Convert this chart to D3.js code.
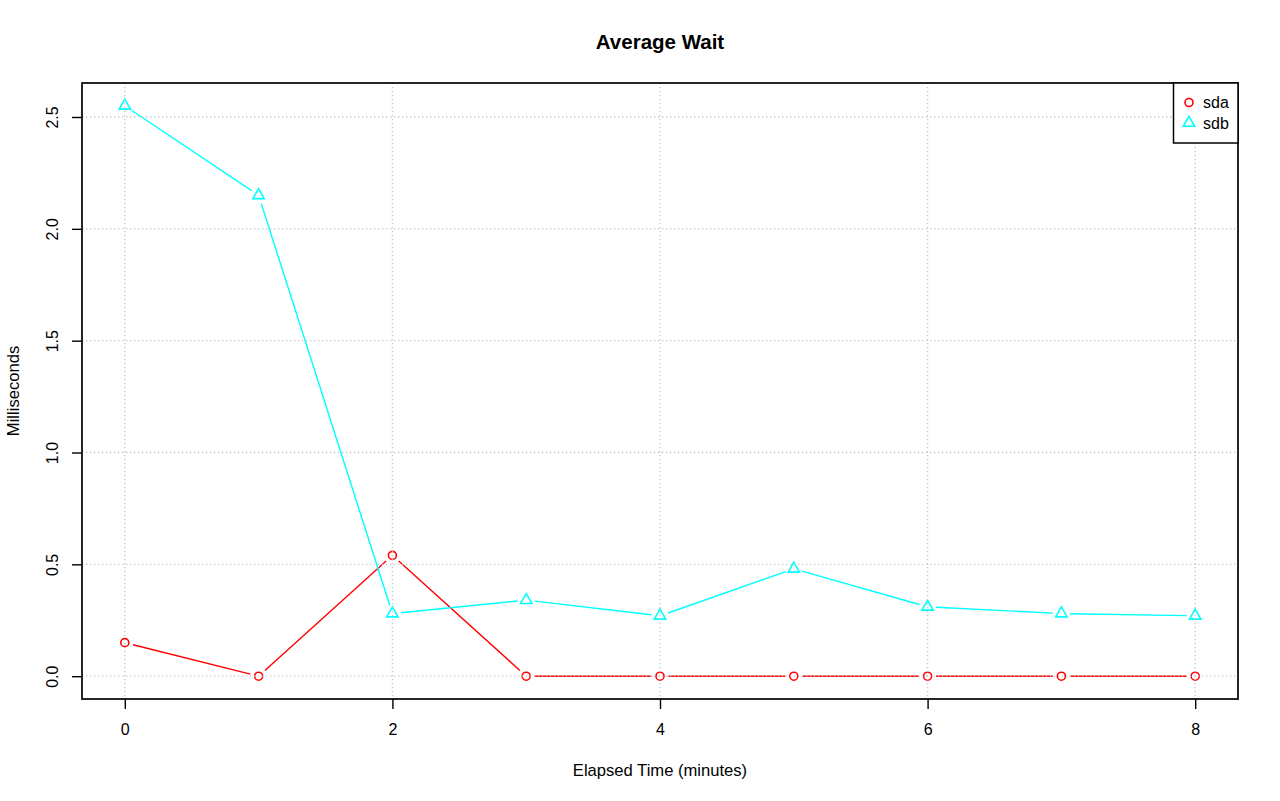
<!DOCTYPE html>
<html>
<head>
<meta charset="utf-8">
<script src="https://cdn.jsdelivr.net/npm/d3@7"></script>
<style>
  html, body { margin: 0; padding: 0; background: #fff; }
  svg { display: block; font-family: "Liberation Sans", Arial, Helvetica, sans-serif; }
</style>
</head>
<body>
<svg id="chart" width="1280" height="801"></svg>
<script>
const minutes = [0, 1, 2, 3, 4, 5, 6, 7, 8];
const sda = [0.15, 0, 0.54, 0, 0, 0, 0, 0, 0];
const sdb = [2.55, 2.15, 0.28, 0.34, 0.27, 0.48, 0.31, 0.28, 0.27];
const xTicks = [0, 2, 4, 6, 8];
const yTicks = [0, 0.5, 1.0, 1.5, 2.0, 2.5];
const seriesNames = ["sda", "sdb"];
const seriesColors = ["#ff0000", "#00ffff"];

const svg = d3.select("#chart");
const plot = { left: 82, right: 1238, top: 83, bottom: 699 };

const xPad = (d3.max(minutes) - d3.min(minutes)) * 0.04;
const x = d3.scaleLinear()
  .domain([d3.min(minutes) - xPad, d3.max(minutes) + xPad])
  .range([plot.left, plot.right]);
const yMax = d3.max(sdb.concat(sda)), yMin = d3.min(sdb.concat(sda));
const yPad = (yMax - yMin) * 0.04;
const y = d3.scaleLinear()
  .domain([yMin - yPad, yMax + yPad])
  .range([plot.bottom, plot.top]);

// Series (type "b": points with gapped lines)
const gap = 8.5;
function drawSeries(values, color, shape) {
  const g = svg.append("g");
  const pts = minutes.map((m, i) => [x(m), y(values[i])]);
  for (let i = 0; i < pts.length - 1; i++) {
    const [x0, y0] = pts[i], [x1, y1] = pts[i + 1];
    const dx = x1 - x0, dy = y1 - y0, len = Math.hypot(dx, dy);
    if (len <= 2 * gap) continue;
    const ux = dx / len, uy = dy / len;
    g.append("line")
      .attr("x1", x0 + ux * gap).attr("y1", y0 + uy * gap)
      .attr("x2", x1 - ux * gap).attr("y2", y1 - uy * gap)
      .attr("stroke", color).attr("stroke-width", 1.4);
  }
  pts.forEach(([px, py]) => {
    if (shape === "circle") {
      g.append("circle").attr("cx", px).attr("cy", py).attr("r", 4)
        .attr("fill", "none").attr("stroke", color).attr("stroke-width", 1.6);
    } else {
      const r = 6.6, yc = 3.3, xc = 5.7;
      g.append("path")
        .attr("d", `M${px},${py - r}L${px + xc},${py + yc}L${px - xc},${py + yc}Z`)
        .attr("fill", "none").attr("stroke", color).attr("stroke-width", 1.6);
    }
  });
}
drawSeries(sda, seriesColors[0], "circle");
drawSeries(sdb, seriesColors[1], "triangle");

// Grid (drawn over lines, as in R's grid())
const grid = svg.append("g").attr("stroke", "#c4c4c4").attr("stroke-width", 1.3)
  .attr("stroke-dasharray", "1.3,2.7");
xTicks.forEach(t => grid.append("line")
  .attr("x1", x(t)).attr("x2", x(t)).attr("y1", plot.top).attr("y2", plot.bottom));
yTicks.forEach(t => grid.append("line")
  .attr("x1", plot.left).attr("x2", plot.right).attr("y1", y(t)).attr("y2", y(t)));

// Axes
const tickFont = 16;
const xAxis = d3.axisBottom(x).tickValues(xTicks).tickSize(10).tickPadding(12)
  .tickFormat(d3.format("d"));
const gx = svg.append("g").attr("transform", `translate(0,${plot.bottom})`).call(xAxis);
gx.select(".domain").remove();
gx.selectAll(".tick line").attr("stroke", "#000").attr("stroke-width", 1.4);
gx.selectAll(".tick text").attr("font-size", tickFont).attr("fill", "#000")
  .attr("font-family", "Liberation Sans, Arial, sans-serif")
  .attr("y", null).attr("dy", null).attr("transform", "translate(0,36)");

const yAxis = d3.axisLeft(y).tickValues(yTicks).tickSize(10).tickFormat(d3.format(".1f"));
const gy = svg.append("g").attr("transform", `translate(${plot.left},0)`).call(yAxis);
gy.select(".domain").remove();
gy.selectAll(".tick line").attr("stroke", "#000").attr("stroke-width", 1.4);
gy.selectAll(".tick text")
  .attr("font-size", tickFont).attr("fill", "#000")
  .attr("font-family", "Liberation Sans, Arial, sans-serif")
  .attr("x", null).attr("dy", null)
  .attr("text-anchor", "middle")
  .attr("transform", "translate(-24,0) rotate(-90)")
  .attr("dominant-baseline", "auto");

// Plot box
svg.append("rect")
  .attr("x", plot.left).attr("y", plot.top)
  .attr("width", plot.right - plot.left).attr("height", plot.bottom - plot.top)
  .attr("fill", "none").attr("stroke", "#000").attr("stroke-width", 1.7);

// Title and labels
svg.append("text").attr("x", (plot.left + plot.right) / 2).attr("y", 48.5)
  .attr("text-anchor", "middle").attr("font-size", 20.5).attr("font-weight", "bold")
  .text("Average Wait");
svg.append("text").attr("x", (plot.left + plot.right) / 2).attr("y", 776)
  .attr("text-anchor", "middle").attr("font-size", 16.6)
  .text("Elapsed Time (minutes)");
svg.append("text")
  .attr("transform", `translate(19,${(plot.top + plot.bottom) / 2}) rotate(-90)`)
  .attr("text-anchor", "middle").attr("font-size", 16.6)
  .text("Milliseconds");

// Legend
const lg = svg.append("g");
const lgBox = { x0: 1173.5, x1: plot.right, y0: plot.top, y1: 143 };
lg.append("rect").attr("x", lgBox.x0).attr("y", lgBox.y0)
  .attr("width", lgBox.x1 - lgBox.x0).attr("height", lgBox.y1 - lgBox.y0)
  .attr("fill", "#fff").attr("stroke", "#000").attr("stroke-width", 1.5);
seriesNames.forEach((name, i) => {
  const cy = 102.5 + i * 20.5, cx = 1189;
  if (i === 0) {
    lg.append("circle").attr("cx", cx).attr("cy", cy).attr("r", 4)
      .attr("fill", "none").attr("stroke", seriesColors[i]).attr("stroke-width", 1.6);
  } else {
    lg.append("path")
      .attr("d", `M${cx},${cy - 6.6}L${cx + 5.7},${cy + 3.3}L${cx - 5.7},${cy + 3.3}Z`)
      .attr("fill", "none").attr("stroke", seriesColors[i]).attr("stroke-width", 1.6);
  }
  lg.append("text").attr("x", 1203).attr("y", cy + 5.5).attr("font-size", 16)
    .text(name);
});
</script>
</body>
</html>
